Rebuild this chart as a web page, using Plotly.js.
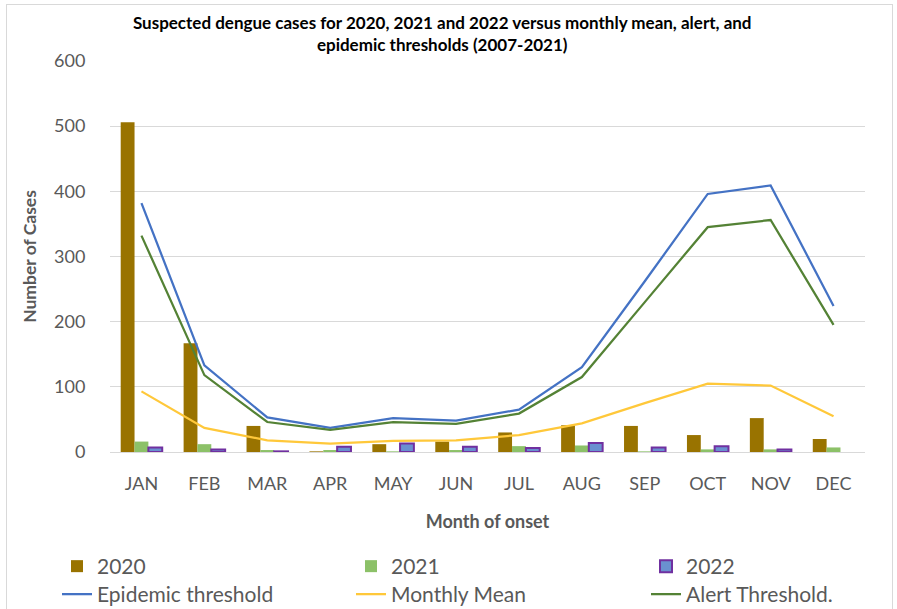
<!DOCTYPE html>
<html>
<head>
<meta charset="utf-8">
<script src="https://cdn.plot.ly/plotly-3.0.1.min.js"></script>
<style>
  html, body { margin: 0; padding: 0; background: #fff; }
  #wrap { position: relative; width: 897px; height: 609px; overflow: hidden; }
  #chart { width: 897px; height: 609px; }
  #frame { position: absolute; left: 6px; top: 4px; width: 885px; height: 640px;
           border: 1px solid #d9d9d9; pointer-events: none; }
</style>
</head>
<body>
<div id="wrap">
  <div id="chart"></div>
  <div id="frame"></div>
</div>
<script>
// Months of onset
const months = ["JAN","FEB","MAR","APR","MAY","JUN","JUL","AUG","SEP","OCT","NOV","DEC"];

// Suspected dengue cases by year (null = no cases reported)
const cases2020 = [506, 167, 40, 1, 12, 16, 30, 41, 40, 26, 52, 20];
const cases2021 = [16, 12, 3, 3, 1, 3, 9, 10, 1, 4, 4, 7];
const cases2022 = [7, 4, 1, 8, 13, 8, 6, 14, 7, 9, 4, null];

// Reference thresholds (2007-2021)
const epidemicThreshold = [382, 133, 53, 37, 52, 48, 65, 130, 262, 396, 409, 224];
const monthlyMean       = [93, 37, 18, 13, 17, 18, 26, 44, 75, 105, 102, 55];
const alertThreshold    = [332, 118, 46, 34, 46, 43, 59, 115, 230, 345, 356, 195];

const font = "Lato, 'Open Sans', sans-serif";
const grey = "#595959";

// Each legend entry gets its own legend box, laid out as a 3 x 2 grid
const traces = [
  { type: "bar", name: "2020", x: months, y: cases2020, legend: "legend",
    marker: { color: "#997300", line: { width: 0 } } },
  { type: "bar", name: "2021", x: months, y: cases2021, legend: "legend2",
    marker: { color: "#8cc168", line: { width: 0 } } },
  { type: "bar", name: "2022", x: months, y: cases2022, legend: "legend3",
    marker: { color: "#6a90d0", line: { color: "#7030a0", width: 2 } } },
  { type: "scatter", mode: "lines", name: "Epidemic threshold", x: months, y: epidemicThreshold,
    legend: "legend4", line: { color: "#4472c4", width: 2.25 } },
  { type: "scatter", mode: "lines", name: "Monthly Mean", x: months, y: monthlyMean,
    legend: "legend5", line: { color: "#ffc83a", width: 2.25 } },
  { type: "scatter", mode: "lines", name: "Alert Threshold.", x: months, y: alertThreshold,
    legend: "legend6", line: { color: "#548235", width: 2.25 } }
];

const W = 897, H = 609;
const colLeft = [57, 351, 646];   // px from left of figure
const rowTop = [546, 574];        // px from top of figure

function legendCell(col, row) {
  return {
    orientation: "h", xref: "container", yref: "container",
    x: colLeft[col] / W, xanchor: "left",
    y: 1 - rowTop[row] / H, yanchor: "top",
    font: { family: font, size: 21, color: grey },
    itemwidth: 30, bgcolor: "rgba(0,0,0,0)"
  };
}

const layout = {
  width: W, height: H,
  paper_bgcolor: "#ffffff", plot_bgcolor: "#ffffff",
  margin: { l: 110, r: 32, t: 61, b: 157 },
  font: { family: font, color: grey },
  barmode: "group", bargap: 0.34, bargroupgap: 0,
  title: {
    text: "Suspected dengue cases for 2020, 2021 and 2022 versus monthly mean, alert, and<br>epidemic thresholds (2007-2021)",
    font: { family: font, size: 17, color: "#000000", weight: "bold" },
    x: 0.493, xref: "container", y: 0.952, yref: "container", yanchor: "top"
  },
  xaxis: {
    type: "category", automargin: false,
    showgrid: false, zeroline: false,
    showline: true, linecolor: "#d9d9d9", linewidth: 1,
    ticks: "outside", ticklen: 15, tickcolor: "rgba(0,0,0,0)",
    tickfont: { family: font, size: 18, color: grey },
    title: { text: "Month of onset", standoff: 22,
             font: { family: font, size: 18, color: grey, weight: "bold" } }
  },
  yaxis: {
    range: [0, 600], dtick: 100, automargin: false,
    showgrid: true, gridcolor: "#d9d9d9", gridwidth: 1,
    zeroline: false, showline: false,
    ticks: "outside", ticklen: 20, tickcolor: "rgba(0,0,0,0)",
    tickfont: { family: font, size: 18, color: grey },
    title: { text: "Number of Cases", standoff: 12,
             font: { family: font, size: 17.5, color: grey, weight: "bold" } }
  },
  legend: legendCell(0, 0),
  legend2: legendCell(1, 0),
  legend3: legendCell(2, 0),
  legend4: legendCell(0, 1),
  legend5: legendCell(1, 1),
  legend6: legendCell(2, 1),
  showlegend: true
};

Plotly.newPlot("chart", traces, layout, { displayModeBar: false, staticPlot: true });
</script>
</body>
</html>
